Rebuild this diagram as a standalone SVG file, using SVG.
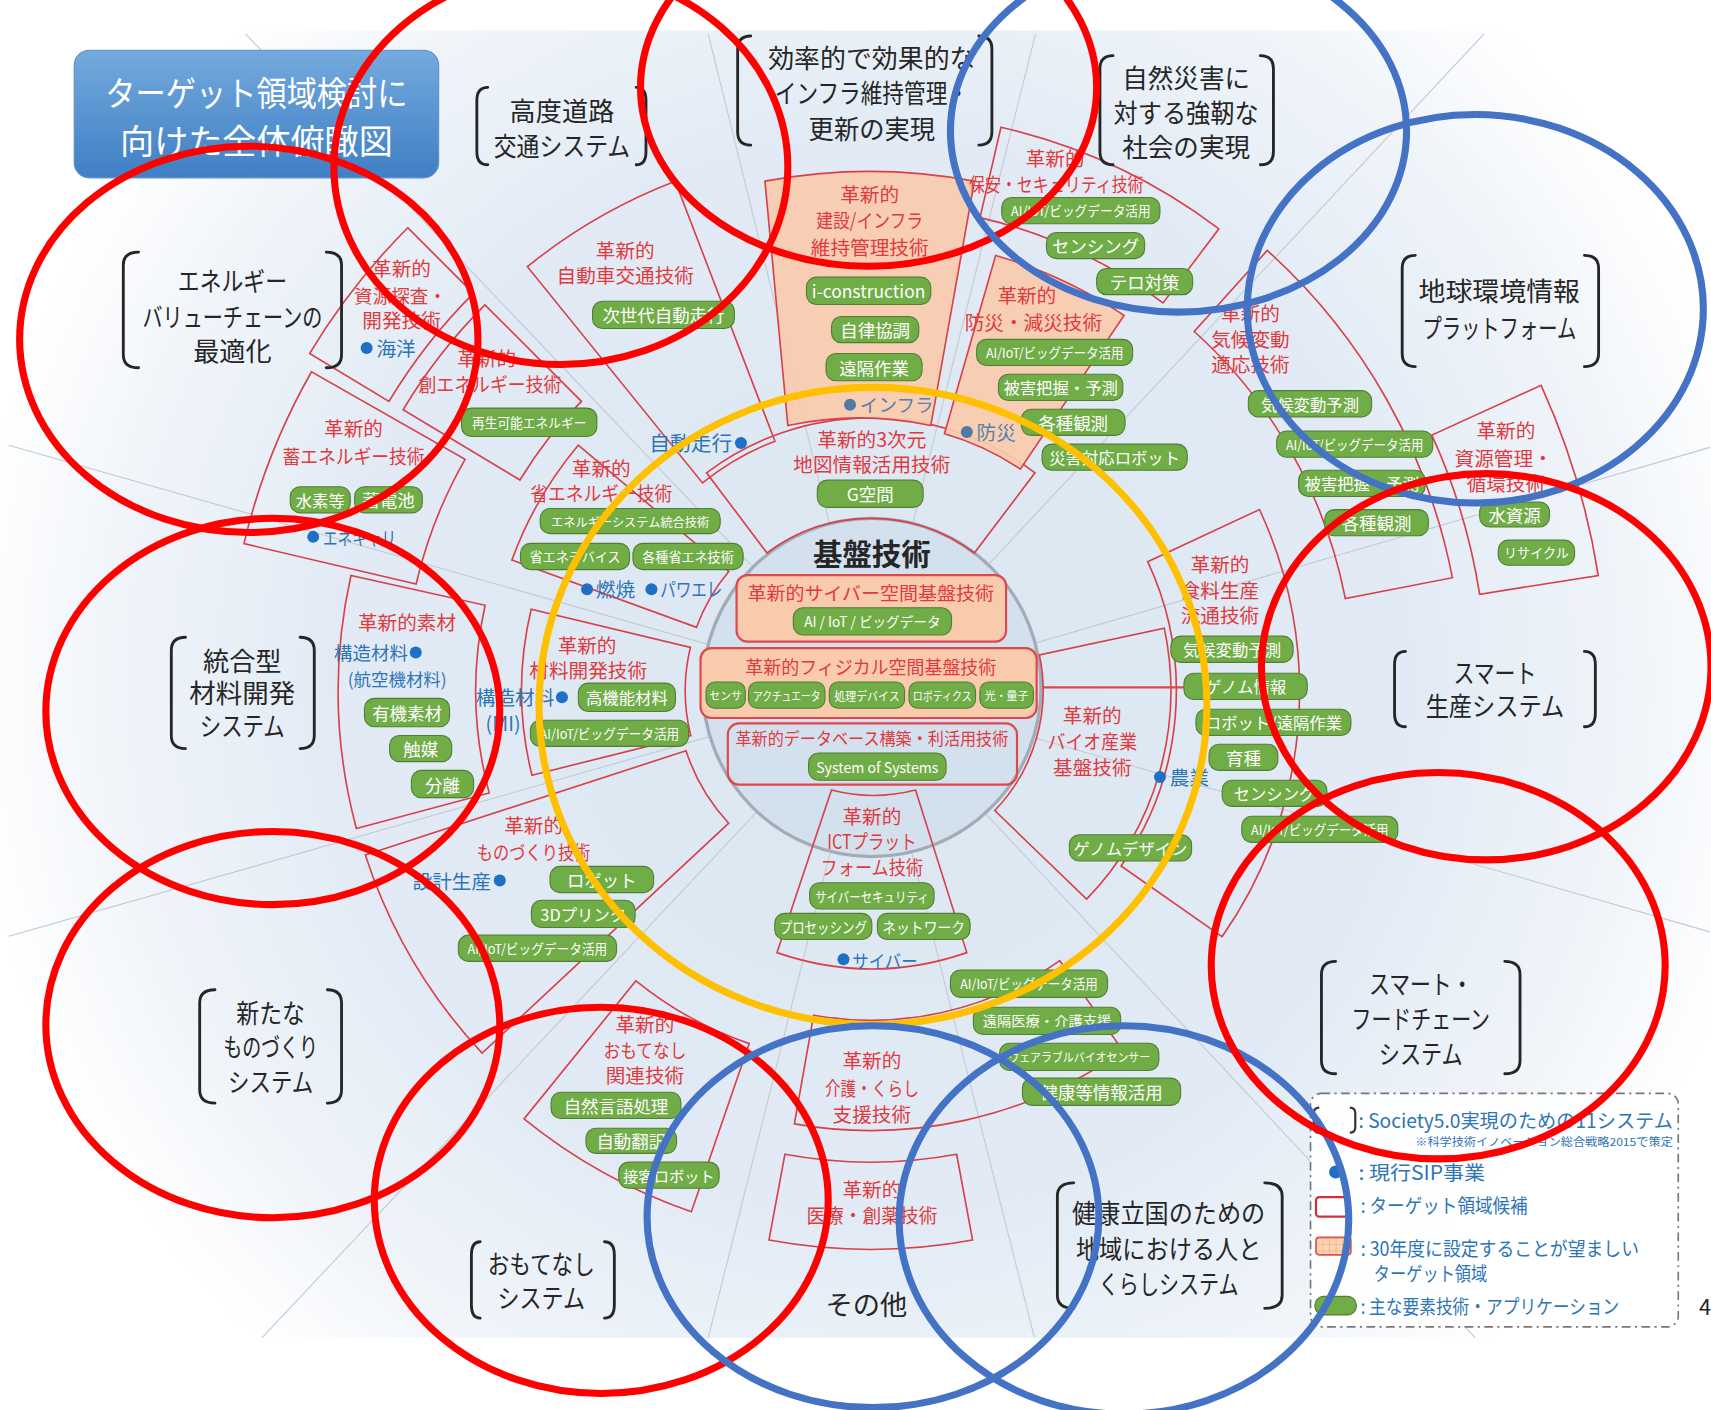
<svg xmlns="http://www.w3.org/2000/svg" width="1711" height="1410" viewBox="0 0 1711 1410" font-family="'Noto Sans CJK JP','Noto Sans',sans-serif">
<defs>
<style>
.sec{fill:none;stroke:#d8404a;stroke-width:1.5}
.seco{fill:#f8cbad;fill-opacity:.92;stroke:#d8404a;stroke-width:1.5}
.p{fill:#70ad47;stroke:#507e32;stroke-width:1}
.pt{fill:#fff;text-anchor:middle;dominant-baseline:central;font-size:16px}
.rt{fill:#e03a3e;font-size:18px;text-anchor:middle;dominant-baseline:central}
.bt{fill:#2e75b6;font-size:18px;dominant-baseline:central}
.gt{fill:#5a7fa8;font-size:17px;dominant-baseline:central}
.dot{fill:#1f6fc5}
.lab{fill:#262626;font-size:24px;text-anchor:middle;dominant-baseline:central}
.brk{fill:none;stroke:#262626;stroke-width:2.6;stroke-linecap:round}
.ov{fill:none;stroke-width:6.5}
.spk{stroke:#c3c9d0;stroke-width:1}
.lg{fill:#2e75b6;font-size:18px;dominant-baseline:central}
.box{fill:#f8cbad;stroke:#e0464a;stroke-width:2}
</style>
<radialGradient id="bg" gradientUnits="userSpaceOnUse" cx="800" cy="620" r="830">
<stop offset="0" stop-color="#dbe6f2"/>
<stop offset="0.6" stop-color="#e2ebf5"/>
<stop offset="0.85" stop-color="#f1f5fa"/>
<stop offset="1" stop-color="#ffffff"/>
</radialGradient>
<linearGradient id="tg" x1="0" y1="0" x2="0" y2="1">
<stop offset="0" stop-color="#74aade"/>
<stop offset="1" stop-color="#3f7fc4"/>
</linearGradient>
<pattern id="grid" width="6" height="6" patternUnits="userSpaceOnUse">
<rect width="6" height="6" fill="#fbd5b5"/>
<path d="M0,0H6M0,0V6" stroke="#f0a060" stroke-width="1"/>
</pattern>
</defs>
<rect width="1711" height="1410" fill="#ffffff"/>
<g transform="scale(1.0912)">
<rect x="0" y="28" width="1568" height="1198" fill="url(#bg)"/>

<g id="connectors">
<line class="spk" x1="798" y1="633" x2="225" y2="31"/>
<line class="spk" x1="798" y1="633" x2="649" y2="31"/>
<line class="spk" x1="798" y1="633" x2="949" y2="31"/>
<line class="spk" x1="798" y1="633" x2="1360" y2="31"/>
<line class="spk" x1="798" y1="633" x2="1567" y2="410"/>
<line class="spk" x1="798" y1="633" x2="1567" y2="854"/>
<line class="spk" x1="798" y1="633" x2="1352" y2="1226"/>
<line class="spk" x1="798" y1="633" x2="948" y2="1226"/>
<line class="spk" x1="798" y1="633" x2="649" y2="1226"/>
<line class="spk" x1="798" y1="633" x2="240" y2="1226"/>
<line class="spk" x1="798" y1="633" x2="8" y2="858"/>
<line class="spk" x1="798" y1="633" x2="8" y2="408"/>
<line x1="950" y1="630" x2="1085" y2="630" stroke="#e0464a" stroke-width="2"/>
</g>

<g id="title">
<rect x="68" y="46" width="334" height="117" rx="14" fill="url(#tg)" stroke="#5b8fc9" stroke-width="1"/>
<text x="235" y="84" fill="#fff" font-size="31" text-anchor="middle" dominant-baseline="central" textLength="277" lengthAdjust="spacingAndGlyphs">ターゲット領域検討に</text>
<text x="235" y="128" fill="#fff" font-size="31" text-anchor="middle" dominant-baseline="central" textLength="250" lengthAdjust="spacingAndGlyphs">向けた全体俯瞰図</text>
</g>

<g id="core">
<circle cx="799" cy="630" r="155" fill="#d3e0ee" stroke="#a3acb6" stroke-width="3"/>
<text x="799" y="506" fill="#262626" font-size="27" font-weight="bold" text-anchor="middle" dominant-baseline="central">基盤技術</text>
<rect class="box" x="675" y="527" width="247" height="61" rx="10"/>
<text class="rt" x="798" y="542" style="font-size:17px" textLength="226" lengthAdjust="spacingAndGlyphs">革新的サイバー空間基盤技術</text>
<rect class="p" x="727" y="557" width="145" height="25" rx="9"/>
<text class="pt" x="799.5" y="569.5" style="font-size:13px" textLength="125" lengthAdjust="spacingAndGlyphs">AI / IoT / ビッグデータ</text>
<rect class="box" x="642" y="594" width="308" height="64" rx="10"/>
<text class="rt" x="798" y="610" style="font-size:17px" textLength="230" lengthAdjust="spacingAndGlyphs">革新的フィジカル空間基盤技術</text>
<rect class="p" x="647" y="625" width="36" height="24" rx="8"/>
<text class="pt" x="665" y="637" style="font-size:10px">センサ</text>
<rect class="p" x="686" y="625" width="70" height="24" rx="8"/>
<text class="pt" x="721" y="637" style="font-size:11px" textLength="62" lengthAdjust="spacingAndGlyphs">アクチュエータ</text>
<rect class="p" x="760" y="625" width="69" height="24" rx="8"/>
<text class="pt" x="794.5" y="637" style="font-size:11px" textLength="60" lengthAdjust="spacingAndGlyphs">処理デバイス</text>
<rect class="p" x="833" y="625" width="61" height="24" rx="8"/>
<text class="pt" x="863.5" y="637" style="font-size:11px" textLength="54" lengthAdjust="spacingAndGlyphs">ロボティクス</text>
<rect class="p" x="898" y="625" width="49" height="24" rx="8"/>
<text class="pt" x="922.5" y="637" style="font-size:10px">光・量子</text>
<rect x="667" y="663" width="265" height="56" rx="10" fill="none" stroke="#e0464a" stroke-width="2"/>
<text class="rt" x="799" y="676" style="font-size:16px" textLength="250" lengthAdjust="spacingAndGlyphs">革新的データベース構築・利活用技術</text>
<rect class="p" x="741" y="690" width="126" height="25" rx="9"/>
<text class="pt" x="804" y="702.5" style="font-size:13px" textLength="112" lengthAdjust="spacingAndGlyphs">System of Systems</text>
</g>

<g id="s-jidousha">
<path class="sec" d="M643.8,442.6 A245,245 0 0 1 710.2,404.3 L618.8,166.2 A500,500 0 0 0 483.3,244.4 Z"/>
<text class="rt" x="573" y="229">革新的</text>
<text class="rt" x="573" y="252">自動車交通技術</text>
<rect class="p" x="543" y="276" width="130" height="25" rx="9"/>
<text class="pt" x="608" y="288.5">次世代自動走行</text>
<text class="bt" x="671" y="405" style="font-size:19px" text-anchor="end">自動走行</text>
<circle class="dot" cx="679" cy="406" r="5.5"/>
</g>

<g id="s-3d">
<path class="sec" d="M702.9,506.8 A158,158 0 0 1 892.9,506.8 L948.5,433.3 A250,250 0 0 0 647.5,433.3 Z"/>
<text class="rt" x="799" y="402">革新的3次元</text>
<text class="rt" x="799" y="425">地図情報活用技術</text>
<rect class="p" x="749" y="440" width="97" height="25" rx="9"/>
<text class="pt" x="797.5" y="452.5">G空間</text>
</g>

<g id="s-kensetsu">
<path class="seco" d="M701,166 Q797,148 893,166 L853,390 Q788,376 722,390 Z"/>
<text class="rt" x="797" y="177">革新的</text>
<text class="rt" x="797" y="201" textLength="98" lengthAdjust="spacingAndGlyphs">建設/インフラ</text>
<text class="rt" x="797" y="226">維持管理技術</text>
<rect class="p" x="739" y="254" width="114" height="25" rx="9"/>
<text class="pt" x="796" y="266.5">i-construction</text>
<rect class="p" x="762" y="290" width="80" height="24" rx="9"/>
<text class="pt" x="802" y="302">自律協調</text>
<rect class="p" x="757" y="324" width="88" height="25" rx="9"/>
<text class="pt" x="801" y="336.5">遠隔作業</text>
<circle cx="779" cy="371" r="5.5" fill="#4f7aa8"/>
<text class="gt" x="788" y="370">インフラ</text>
</g>

<g id="s-hoan">
<path class="sec" d="M898.1,199.4 A445,445 0 0 1 1065.8,277.6 L1117.0,209.7 A530,530 0 0 0 917.3,116.6 Z"/>
<text class="rt" x="967" y="144">革新的</text>
<text class="rt" x="968" y="168" textLength="160" lengthAdjust="spacingAndGlyphs">保安・セキュリティ技術</text>
<rect class="p" x="918" y="181" width="145" height="24" rx="9"/>
<text class="pt" x="990.5" y="193" style="font-size:12px" textLength="128" lengthAdjust="spacingAndGlyphs">AI/IoT/ビッグデータ活用</text>
<rect class="p" x="959" y="213" width="90" height="24" rx="9"/>
<text class="pt" x="1004" y="225">センシング</text>
<rect class="p" x="1005" y="246" width="88" height="24" rx="9"/>
<text class="pt" x="1049" y="258">テロ対策</text>
</g>

<g id="s-bousai">
<path class="seco" d="M865.5,397.5 A245,245 0 0 1 935.0,429.9 L1030.1,289.0 A415,415 0 0 0 912.4,234.1 Z"/>
<text class="rt" x="941" y="270">革新的</text>
<text class="rt" x="947" y="295">防災・減災技術</text>
<rect class="p" x="895" y="311" width="143" height="24" rx="9"/>
<text class="pt" x="966.5" y="323" style="font-size:12px" textLength="126" lengthAdjust="spacingAndGlyphs">AI/IoT/ビッグデータ活用</text>
<rect class="p" x="915" y="343" width="114" height="24" rx="9"/>
<text class="pt" x="972" y="355" style="font-size:15px">被害把握・予測</text>
<rect class="p" x="936" y="375" width="95" height="24" rx="9"/>
<text class="pt" x="983.5" y="387">各種観測</text>
<rect class="p" x="955" y="407" width="133" height="24" rx="9"/>
<text class="pt" x="1021.5" y="419" style="font-size:15px">災害対応ロボット</text>
<circle cx="886" cy="396" r="5.5" fill="#4f7aa8"/>
<text class="gt" x="895" y="395" style="font-size:18px">防災</text>
</g>

<g id="s-kikou">
<path class="sec" d="M1094.4,303.8 A443,443 0 0 1 1232.9,548.5 L1331.0,529.4 A543,543 0 0 0 1161.3,229.5 Z"/>
<text class="rt" x="1146" y="286">革新的</text>
<text class="rt" x="1146" y="310">気候変動</text>
<text class="rt" x="1146" y="333">適応技術</text>
<rect class="p" x="1144" y="358" width="113" height="24" rx="9"/>
<text class="pt" x="1200.5" y="370" style="font-size:15px">気候変動予測</text>
<rect class="p" x="1170" y="395" width="143" height="24" rx="9"/>
<text class="pt" x="1241.5" y="407" style="font-size:12px" textLength="126" lengthAdjust="spacingAndGlyphs">AI/IoT/ビッグデータ活用</text>
<rect class="p" x="1190" y="431" width="116" height="24" rx="9"/>
<text class="pt" x="1248" y="443" style="font-size:15px">被害把握・予測</text>
<rect class="p" x="1214" y="467" width="95" height="24" rx="9"/>
<text class="pt" x="1261.5" y="479">各種観測</text>
</g>

<g id="s-shigenkanri">
<path class="sec" d="M1312.2,398.7 A565,565 0 0 1 1356.0,544.6 L1464.7,527.4 A675,675 0 0 0 1412.3,353.1 Z"/>
<text class="rt" x="1380" y="394">革新的</text>
<text class="rt" x="1378" y="419">資源管理・</text>
<text class="rt" x="1380" y="442">循環技術</text>
<rect class="p" x="1356" y="460" width="64" height="23" rx="9"/>
<text class="pt" x="1388" y="471.5">水資源</text>
<rect class="p" x="1373" y="495" width="70" height="23" rx="9"/>
<text class="pt" x="1408" y="506.5" style="font-size:12px">リサイクル</text>
</g>

<g id="s-shokuryo">
<path class="sec" d="M1051.8,514.7 A280,280 0 0 1 1027.4,793.6 L1119.9,858.4 A393,393 0 0 0 1154.2,466.9 Z"/>
<text class="rt" x="1118" y="516">革新的</text>
<text class="rt" x="1118" y="540">食料生産</text>
<text class="rt" x="1118" y="563">流通技術</text>
<rect class="p" x="1073" y="583" width="112" height="24" rx="9"/>
<text class="pt" x="1129" y="595" style="font-size:15px">気候変動予測</text>
<rect class="p" x="1085" y="617" width="113" height="24" rx="9"/>
<text class="pt" x="1141.5" y="629" style="font-size:15px">ゲノム情報</text>
<rect class="p" x="1096" y="650" width="142" height="24" rx="9"/>
<text class="pt" x="1167" y="662" style="font-size:15px">ロボット/遠隔作業</text>
<rect class="p" x="1108" y="682" width="63" height="24" rx="9"/>
<text class="pt" x="1139.5" y="694">育種</text>
<rect class="p" x="1120" y="715" width="96" height="24" rx="9"/>
<text class="pt" x="1168" y="727" style="font-size:15px">センシング</text>
<rect class="p" x="1138" y="748" width="143" height="24" rx="9"/>
<text class="pt" x="1209.5" y="760" style="font-size:12px" textLength="126" lengthAdjust="spacingAndGlyphs">AI/IoT/ビッグデータ活用</text>
</g>

<g id="s-bio">
<path class="sec" d="M952.5,600.2 A158,158 0 0 1 911.6,742.8 L995.8,824.0 A275,275 0 0 0 1067.0,575.8 Z"/>
<text class="rt" x="1001" y="655">革新的</text>
<text class="rt" x="1001" y="679" textLength="82" lengthAdjust="spacingAndGlyphs">バイオ産業</text>
<text class="rt" x="1001" y="702">基盤技術</text>
<rect class="p" x="980" y="765" width="112" height="24" rx="9"/>
<text class="pt" x="1036" y="777" style="font-size:15px">ゲノムデザイン</text>
<circle class="dot" cx="1063" cy="712" r="5.5"/>
<text class="bt" x="1072" y="712">農業</text>
</g>

<g id="s-kaigo">
<path class="sec" d="M971.2,880.4 A302,302 0 0 1 745.6,930.4 L728.0,1029.9 A403,403 0 0 0 1029.2,963.1 Z"/>
<text class="rt" x="799" y="971">革新的</text>
<text class="rt" x="799" y="997" textLength="86" lengthAdjust="spacingAndGlyphs">介護・くらし</text>
<text class="rt" x="799" y="1020">支援技術</text>
<rect class="p" x="871" y="889" width="144" height="25" rx="9"/>
<text class="pt" x="943" y="901.5" style="font-size:12px" textLength="126" lengthAdjust="spacingAndGlyphs">AI/IoT/ビッグデータ活用</text>
<rect class="p" x="892" y="923" width="135" height="25" rx="9"/>
<text class="pt" x="959.5" y="935.5" style="font-size:12px" textLength="118" lengthAdjust="spacingAndGlyphs">遠隔医療・介護支援</text>
<rect class="p" x="916" y="956" width="146" height="25" rx="9"/>
<text class="pt" x="989" y="968.5" style="font-size:11px" textLength="130" lengthAdjust="spacingAndGlyphs">ウェアラブルバイオセンサー</text>
<rect class="p" x="937" y="988" width="145" height="25" rx="9"/>
<text class="pt" x="1009.5" y="1000.5">健康等情報活用</text>
</g>

<g id="s-iryo">
<path class="sec" d="M876.7,1057.8 A432,432 0 0 1 719.3,1057.8 L704.7,1136.4 A512,512 0 0 0 891.3,1136.4 Z"/>
<text class="rt" x="799" y="1089">革新的</text>
<text class="rt" x="799" y="1113" textLength="120" lengthAdjust="spacingAndGlyphs">医療・創薬技術</text>
</g>

<g id="s-ict">
<path class="sec" d="M762,724 Q800,734 839,724 L886,873 Q799,903 712,873 Z"/>
<text class="rt" x="799" y="747">革新的</text>
<text class="rt" x="799" y="770" textLength="82" lengthAdjust="spacingAndGlyphs">ICTプラット</text>
<text class="rt" x="799" y="794" textLength="94" lengthAdjust="spacingAndGlyphs">フォーム技術</text>
<rect class="p" x="742" y="809" width="114" height="24" rx="9"/>
<text class="pt" x="799" y="821" style="font-size:13px" textLength="104" lengthAdjust="spacingAndGlyphs">サイバーセキュリティ</text>
<rect class="p" x="710" y="837" width="89" height="24" rx="9"/>
<text class="pt" x="754.5" y="849" style="font-size:14px" textLength="80" lengthAdjust="spacingAndGlyphs">プロセッシング</text>
<rect class="p" x="804" y="837" width="85" height="24" rx="9"/>
<text class="pt" x="846.5" y="849" style="font-size:14px" textLength="76" lengthAdjust="spacingAndGlyphs">ネットワーク</text>
<circle class="dot" cx="773" cy="879" r="5.5"/>
<text class="bt" x="781" y="879" style="font-size:17px" textLength="60" lengthAdjust="spacingAndGlyphs">サイバー</text>
</g>

<g id="s-omotenashi">
<path class="sec" d="M686.6,956.4 A342,342 0 0 1 582.8,898.8 L480.2,1025.4 A505,505 0 0 0 633.6,1110.5 Z"/>
<text class="rt" x="591" y="938">革新的</text>
<text class="rt" x="591" y="962" textLength="76" lengthAdjust="spacingAndGlyphs">おもてなし</text>
<text class="rt" x="591" y="985">関連技術</text>
<rect class="p" x="505" y="1001" width="119" height="24" rx="9"/>
<text class="pt" x="564.5" y="1013">自然言語処理</text>
<rect class="p" x="537" y="1034" width="83" height="23" rx="9"/>
<text class="pt" x="578.5" y="1045.5">自動翻訳</text>
<rect class="p" x="567" y="1065" width="92" height="24" rx="9"/>
<text class="pt" x="613" y="1077" style="font-size:14px">接客ロボット</text>
</g>

<g id="s-monozukuri">
<path class="sec" d="M667.8,754.4 A178,178 0 0 1 628.7,688.0 L334.8,783.5 A487,487 0 0 0 441.8,965.1 Z"/>
<text class="rt" x="489" y="756">革新的</text>
<text class="rt" x="489" y="780" textLength="104" lengthAdjust="spacingAndGlyphs">ものづくり技術</text>
<text class="bt" x="450" y="807" text-anchor="end">設計生産</text>
<circle class="dot" cx="458" cy="807" r="5.5"/>
<rect class="p" x="504" y="794" width="95" height="24" rx="9"/>
<text class="pt" x="551.5" y="806">ロボット</text>
<rect class="p" x="487" y="825" width="95" height="25" rx="9"/>
<text class="pt" x="534.5" y="837.5" style="font-size:15px">3Dプリンタ</text>
<rect class="p" x="420" y="857" width="145" height="24" rx="9"/>
<text class="pt" x="492.5" y="869" style="font-size:12px" textLength="128" lengthAdjust="spacingAndGlyphs">AI/IoT/ビッグデータ活用</text>
</g>

<g id="s-sozai">
<path class="sec" d="M448.3,726.7 A362,362 0 0 1 444.6,554.7 L321.6,527.4 A488,488 0 0 0 326.6,759.3 Z"/>
<text class="rt" x="373" y="570">革新的素材</text>
<text class="bt" x="374" y="597" style="font-size:17px" text-anchor="end">構造材料</text>
<circle class="dot" cx="381" cy="598" r="5.5"/>
<text class="bt" x="364" y="622" text-anchor="middle" style="font-size:16px">(航空機材料)</text>
<rect class="p" x="334" y="640" width="78" height="26" rx="9"/>
<text class="pt" x="373" y="653">有機素材</text>
<rect class="p" x="357" y="674" width="57" height="24" rx="9"/>
<text class="pt" x="385.5" y="686">触媒</text>
<rect class="p" x="377" y="706" width="57" height="25" rx="9"/>
<text class="pt" x="405.5" y="718.5">分離</text>
</g>

<g id="s-zairyo">
<path class="sec" d="M633.0,674.1 A170,170 0 0 1 632.7,593.3 L486.8,558.3 A320,320 0 0 0 487.5,710.4 Z"/>
<text class="rt" x="538" y="591">革新的</text>
<text class="rt" x="539" y="614">材料開発技術</text>
<text class="bt" x="508" y="638" text-anchor="end">構造材料</text>
<circle class="dot" cx="515" cy="639" r="5.5"/>
<text class="bt" x="461" y="662" text-anchor="middle">(MI)</text>
<rect class="p" x="530" y="626" width="89" height="26" rx="9"/>
<text class="pt" x="574.5" y="639" style="font-size:15px">高機能材料</text>
<rect class="p" x="486" y="660" width="145" height="24" rx="9"/>
<text class="pt" x="558.5" y="672" style="font-size:12px" textLength="128" lengthAdjust="spacingAndGlyphs">AI/IoT/ビッグデータ活用</text>
</g>

<g id="s-shoene">
<path class="sec" d="M638.3,574.9 A170,170 0 0 1 667.8,523.7 L529.9,408.0 A350,350 0 0 0 469.1,513.3 Z"/>
<text class="rt" x="551" y="428">革新的</text>
<text class="rt" x="551" y="451" textLength="130" lengthAdjust="spacingAndGlyphs">省エネルギー技術</text>
<rect class="p" x="495" y="466" width="165" height="23" rx="9"/>
<text class="pt" x="577.5" y="477.5" style="font-size:11px" textLength="145" lengthAdjust="spacingAndGlyphs">エネルギーシステム統合技術</text>
<rect class="p" x="477" y="498" width="100" height="24" rx="9"/>
<text class="pt" x="527" y="510" style="font-size:12px">省エネデバイス</text>
<rect class="p" x="580" y="498" width="101" height="24" rx="9"/>
<text class="pt" x="630.5" y="510" style="font-size:12px">各種省エネ技術</text>
<circle class="dot" cx="538" cy="540" r="5.5"/>
<text class="bt" x="546" y="539">燃焼</text>
<circle class="dot" cx="597" cy="540" r="5.5"/>
<text class="bt" x="605" y="539" textLength="57" lengthAdjust="spacingAndGlyphs">パワエレ</text>
</g>

<g id="s-souene">
<path class="sec" d="M476.5,439.9 A375,375 0 0 1 532.8,367.8 L444.4,279.4 A500,500 0 0 0 369.4,375.5 Z"/>
<text class="rt" x="446" y="328">革新的</text>
<text class="rt" x="449" y="351" textLength="131" lengthAdjust="spacingAndGlyphs">創エネルギー技術</text>
<rect class="p" x="423" y="374" width="124" height="26" rx="9"/>
<text class="pt" x="485" y="387" style="font-size:12px" textLength="105" lengthAdjust="spacingAndGlyphs">再生可能エネルギー</text>
</g>

<g id="s-shigentansa">
<path class="sec" d="M356.5,367.8 A515,515 0 0 1 433.8,268.8 L373.7,208.7 A600,600 0 0 0 283.7,324.0 Z"/>
<text class="rt" x="368" y="245">革新的</text>
<text class="rt" x="367" y="270" style="font-size:17px">資源探査・</text>
<text class="rt" x="368" y="293">開発技術</text>
<circle class="dot" cx="336" cy="319" r="5.5"/>
<text class="bt" x="345" y="318">海洋</text>
</g>

<g id="s-chikuene">
<path class="sec" d="M381.3,535.2 A428,428 0 0 1 426.2,420.9 L285.5,340.7 A590,590 0 0 0 223.6,498.2 Z"/>
<text class="rt" x="324" y="392">革新的</text>
<text class="rt" x="324" y="417" textLength="130" lengthAdjust="spacingAndGlyphs">蓄エネルギー技術</text>
<rect class="p" x="266" y="446" width="55" height="24" rx="9"/>
<text class="pt" x="293.5" y="458" style="font-size:15px">水素等</text>
<rect class="p" x="325" y="446" width="62" height="24" rx="9"/>
<text class="pt" x="356" y="458">蓄電池</text>
<circle class="dot" cx="287" cy="492" r="5.5"/>
<text class="bt" x="296" y="492" style="font-size:17px" textLength="67" lengthAdjust="spacingAndGlyphs">エネキャリ</text>
</g>

<g id="sys-koudo">
<path class="brk" d="M447,80 Q437,80 437,92 L437,139 Q437,151 447,151"/>
<path class="brk" d="M583,80 Q592,80 592,92 L592,139 Q592,151 583,151"/>
<text class="lab" x="515" y="101">高度道路</text>
<text class="lab" x="515" y="133" textLength="125" lengthAdjust="spacingAndGlyphs">交通システム</text>
</g>
<g id="sys-infra">
<path class="brk" d="M688,33 Q676,33 676,45 L676,121 Q676,133 688,133"/>
<path class="brk" d="M897,33 Q909,33 909,45 L909,121 Q909,133 897,133"/>
<text class="lab" x="799" y="52" textLength="190" lengthAdjust="spacingAndGlyphs">効率的で効果的な</text>
<text class="lab" x="799" y="84" textLength="178" lengthAdjust="spacingAndGlyphs">インフラ維持管理・</text>
<text class="lab" x="799" y="117" textLength="116" lengthAdjust="spacingAndGlyphs">更新の実現</text>
</g>
<g id="sys-saigai">
<path class="brk" d="M1020,51 Q1008,51 1008,63 L1008,139 Q1008,151 1020,151"/>
<path class="brk" d="M1155,51 Q1167,51 1167,63 L1167,139 Q1167,151 1155,151"/>
<text class="lab" x="1087" y="71" textLength="117" lengthAdjust="spacingAndGlyphs">自然災害に</text>
<text class="lab" x="1087" y="103" textLength="133" lengthAdjust="spacingAndGlyphs">対する強靭な</text>
<text class="lab" x="1087" y="134" textLength="117" lengthAdjust="spacingAndGlyphs">社会の実現</text>
</g>
<g id="sys-chikyu">
<path class="brk" d="M1297,234 Q1285,234 1285,246 L1285,324 Q1285,336 1297,336"/>
<path class="brk" d="M1452,234 Q1465,234 1465,246 L1465,324 Q1465,336 1452,336"/>
<text class="lab" x="1374" y="266" textLength="148" lengthAdjust="spacingAndGlyphs">地球環境情報</text>
<text class="lab" x="1374" y="300" textLength="141" lengthAdjust="spacingAndGlyphs">プラットフォーム</text>
</g>
<g id="sys-energy">
<path class="brk" d="M127,231 Q113,231 113,243 L113,325 Q113,337 127,337"/>
<path class="brk" d="M299,231 Q313,231 313,243 L313,325 Q313,337 299,337"/>
<text class="lab" x="213" y="257" textLength="100" lengthAdjust="spacingAndGlyphs">エネルギー</text>
<text class="lab" x="213" y="290" textLength="165" lengthAdjust="spacingAndGlyphs">バリューチェーンの</text>
<text class="lab" x="213" y="321">最適化</text>
</g>
<g id="sys-zairyo">
<path class="brk" d="M170,584 Q157,584 157,596 L157,674 Q157,686 170,686"/>
<path class="brk" d="M275,584 Q288,584 288,596 L288,674 Q288,686 275,686"/>
<text class="lab" x="222" y="605">統合型</text>
<text class="lab" x="222" y="634" textLength="97" lengthAdjust="spacingAndGlyphs">材料開発</text>
<text class="lab" x="222" y="664" textLength="78" lengthAdjust="spacingAndGlyphs">システム</text>
</g>
<g id="sys-seisan">
<path class="brk" d="M1288,597 Q1278,597 1278,609 L1278,654 Q1278,666 1288,666"/>
<path class="brk" d="M1452,597 Q1462,597 1462,609 L1462,654 Q1462,666 1452,666"/>
<text class="lab" x="1370" y="616" textLength="76" lengthAdjust="spacingAndGlyphs">スマート</text>
<text class="lab" x="1370" y="646" textLength="127" lengthAdjust="spacingAndGlyphs">生産システム</text>
</g>
<g id="sys-monozukuri">
<path class="brk" d="M197,907 Q183,907 183,919 L183,999 Q183,1011 197,1011"/>
<path class="brk" d="M300,907 Q313,907 313,919 L313,999 Q313,1011 300,1011"/>
<text class="lab" x="248" y="927" textLength="63" lengthAdjust="spacingAndGlyphs">新たな</text>
<text class="lab" x="248" y="959" textLength="87" lengthAdjust="spacingAndGlyphs">ものづくり</text>
<text class="lab" x="248" y="991" textLength="78" lengthAdjust="spacingAndGlyphs">システム</text>
</g>
<g id="sys-food">
<path class="brk" d="M1224,881 Q1211,881 1211,893 L1211,972 Q1211,984 1224,984"/>
<path class="brk" d="M1379,881 Q1393,881 1393,893 L1393,972 Q1393,984 1379,984"/>
<text class="lab" x="1302" y="901" textLength="95" lengthAdjust="spacingAndGlyphs">スマート・</text>
<text class="lab" x="1302" y="933" textLength="127" lengthAdjust="spacingAndGlyphs">フードチェーン</text>
<text class="lab" x="1302" y="965" textLength="77" lengthAdjust="spacingAndGlyphs">システム</text>
</g>
<g id="sys-omotenashi">
<path class="brk" d="M440,1138 Q432,1138 432,1150 L432,1196 Q432,1208 440,1208"/>
<path class="brk" d="M554,1138 Q563,1138 563,1150 L563,1196 Q563,1208 554,1208"/>
<text class="lab" x="496" y="1157" textLength="98" lengthAdjust="spacingAndGlyphs">おもてなし</text>
<text class="lab" x="496" y="1189" textLength="80" lengthAdjust="spacingAndGlyphs">システム</text>
</g>
<g id="sys-sonota">
<text class="lab" x="794" y="1194" style="font-size:25px">その他</text>
</g>
<g id="sys-kenkou">
<path class="brk" d="M984,1084 Q969,1084 969,1096 L969,1187 Q969,1199 984,1199"/>
<path class="brk" d="M1159,1084 Q1175,1084 1175,1096 L1175,1187 Q1175,1199 1159,1199"/>
<text class="lab" x="1071" y="1111" textLength="177" lengthAdjust="spacingAndGlyphs">健康立国のための</text>
<text class="lab" x="1071" y="1144" textLength="170" lengthAdjust="spacingAndGlyphs">地域における人と</text>
<text class="lab" x="1071" y="1176" textLength="128" lengthAdjust="spacingAndGlyphs">くらしシステム</text>
</g>

<g id="legend">
<rect x="1201" y="1002" width="337" height="214" rx="10" fill="#ffffff" fill-opacity="0.9" stroke="#777" stroke-width="1.5" stroke-dasharray="8 4 2 4"/>
<path d="M1209,1015 Q1204,1015 1204,1020 L1204,1033 Q1204,1038 1209,1038" fill="none" stroke="#333" stroke-width="2"/>
<path d="M1237,1015 Q1242,1015 1242,1020 L1242,1033 Q1242,1038 1237,1038" fill="none" stroke="#333" stroke-width="2"/>
<text class="lg" x="1245" y="1026" textLength="288" lengthAdjust="spacingAndGlyphs">: Society5.0実現のための11システム</text>
<text class="lg" x="1533" y="1046" style="font-size:10px" text-anchor="end" textLength="236" lengthAdjust="spacingAndGlyphs">※科学技術イノベーション総合戦略2015で策定</text>
<circle class="dot" cx="1224" cy="1074" r="6"/>
<text class="lg" x="1245" y="1074" textLength="116" lengthAdjust="spacingAndGlyphs">: 現行SIP事業</text>
<rect x="1206" y="1097" width="30" height="18" rx="3" fill="#fff" stroke="#d0303a" stroke-width="2"/>
<text class="lg" x="1247" y="1104" textLength="153" lengthAdjust="spacingAndGlyphs">: ターゲット領域候補</text>
<rect x="1206" y="1134" width="32" height="16" rx="3" fill="url(#grid)" stroke="#e05050" stroke-width="1.5"/>
<text class="lg" x="1247" y="1143" textLength="255" lengthAdjust="spacingAndGlyphs">: 30年度に設定することが望ましい</text>
<text class="lg" x="1259" y="1166" textLength="104" lengthAdjust="spacingAndGlyphs">ターゲット領域</text>
<rect class="p" x="1205" y="1188" width="38" height="17" rx="8"/>
<text class="lg" x="1247" y="1196" textLength="237" lengthAdjust="spacingAndGlyphs">: 主な要素技術・アプリケーション</text>
</g>
<g id="pagenum">
<text x="1557" y="1196" font-size="20" fill="#262626" dominant-baseline="central">4</text>
</g>

<g id="overlays">
<ellipse class="ov" stroke="#ffc000" cx="800" cy="647" rx="306" ry="292"/>
<ellipse class="ov" stroke="#ff0000" cx="514" cy="153" rx="208" ry="181"/>
<ellipse class="ov" stroke="#ff0000" cx="796" cy="80" rx="209" ry="164"/>
<ellipse class="ov" stroke="#4472c4" cx="1080" cy="120" rx="209" ry="166"/>
<ellipse class="ov" stroke="#4472c4" cx="1352" cy="283" rx="209" ry="178"/>
<ellipse class="ov" stroke="#ff0000" cx="228" cy="311" rx="210" ry="177"/>
<ellipse class="ov" stroke="#ff0000" cx="250" cy="652" rx="208" ry="177"/>
<ellipse class="ov" stroke="#ff0000" cx="250" cy="939" rx="208" ry="177"/>
<ellipse class="ov" stroke="#ff0000" cx="551" cy="1100" rx="208" ry="177"/>
<ellipse class="ov" stroke="#4472c4" cx="800" cy="1115" rx="207" ry="175"/>
<ellipse class="ov" stroke="#4472c4" cx="1030" cy="1118" rx="206" ry="178"/>
<ellipse class="ov" stroke="#ff0000" cx="1362" cy="611" rx="206" ry="177"/>
<ellipse class="ov" stroke="#ff0000" cx="1318" cy="885" rx="208" ry="177"/>
</g>
</g>
</svg>
